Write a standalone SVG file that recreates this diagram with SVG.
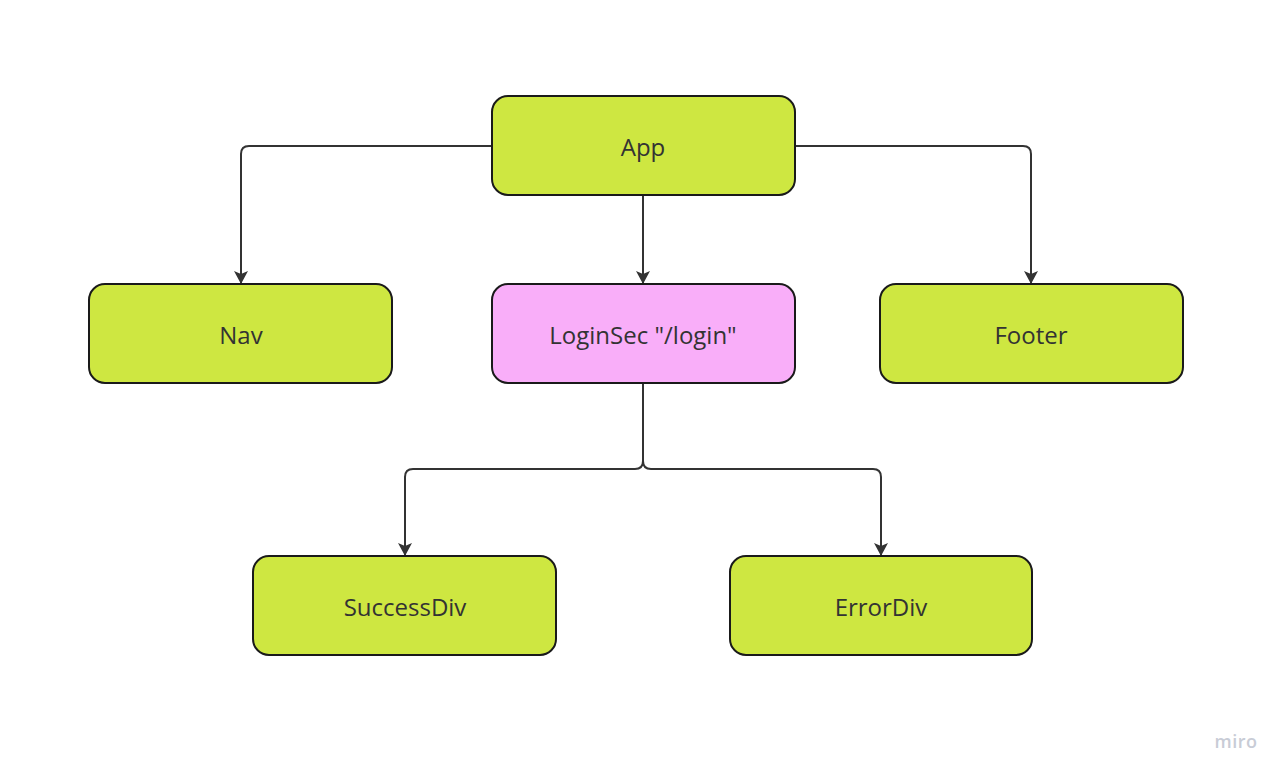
<svg xmlns="http://www.w3.org/2000/svg" width="1285" height="777" viewBox="0 0 1285 777">
<defs>
<style>
.box{stroke:#1a1a1a;stroke-width:2}
.g{fill:#cee741}
.p{fill:#f9aef9}
.lbl{font-family:"Open Sans","Noto Sans",sans-serif;font-size:24px;fill:#333;text-anchor:middle;dominant-baseline:central}
.c{fill:none;stroke:#333;stroke-width:2}
</style>
<marker id="ah" viewBox="0 0 13 14" refX="12" refY="7" markerWidth="13" markerHeight="14" markerUnits="userSpaceOnUse" orient="auto">
<path d="M0,0 L13,7 L0,14 L3,7 Z" fill="#333"/>
</marker>
</defs>
<rect width="1285" height="777" fill="#fff"/>
<g id="connectors">
<path class="c" d="M492,146 H249 Q241,146 241,154 V283" marker-end="url(#ah)"/>
<path class="c" d="M795,146 H1023 Q1031,146 1031,154 V283" marker-end="url(#ah)"/>
<path class="c" d="M643,195 V283" marker-end="url(#ah)"/>
<path class="c" d="M643,383 V461 Q643,469 635,469 H413 Q405,469 405,477 V555" marker-end="url(#ah)"/>
<path class="c" d="M643,383 V461 Q643,469 651,469 H873 Q881,469 881,477 V555" marker-end="url(#ah)"/>
</g>
<g id="app"><rect class="box g" x="492" y="96" width="303" height="99" rx="16"/><text class="lbl" x="643" y="146">App</text></g>
<g id="nav"><rect class="box g" x="89" y="284" width="303" height="99" rx="16"/><text class="lbl" x="241" y="334">Nav</text></g>
<g id="loginsec"><rect class="box p" x="492" y="284" width="303" height="99" rx="16"/><text class="lbl" x="643" y="334">LoginSec "/login"</text></g>
<g id="footer"><rect class="box g" x="880" y="284" width="303" height="99" rx="16"/><text class="lbl" x="1031" y="334">Footer</text></g>
<g id="successdiv"><rect class="box g" x="253" y="556" width="303" height="99" rx="16"/><text class="lbl" x="405" y="606">SuccessDiv</text></g>
<g id="errordiv"><rect class="box g" x="730" y="556" width="302" height="99" rx="16"/><text class="lbl" x="881" y="606">ErrorDiv</text></g>
<text x="1236" y="741" font-family="Open Sans, sans-serif" font-size="18" font-weight="600" fill="#c8ccd6" text-anchor="middle" dominant-baseline="central" letter-spacing="0.5">miro</text>
</svg>
